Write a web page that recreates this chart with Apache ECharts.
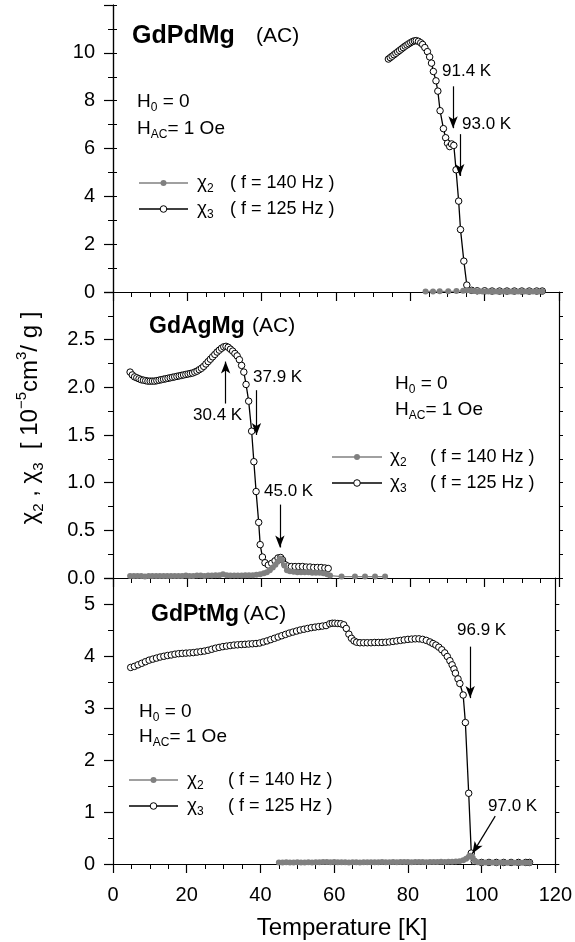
<!DOCTYPE html>
<html>
<head>
<meta charset="utf-8">
<script src="https://cdn.jsdelivr.net/npm/echarts@6/dist/echarts.min.js"></script>
<style>
html, body { margin: 0; padding: 0; background: #fff; }
#chart { width: 575px; height: 942px; }
</style>
</head>
<body>
<div id="chart"></div>
<script>
// GdPdMg: [T (K), chi (1e-5 cm3/g)]
var pdChi3 = [[74.1,9.74],[74.6,9.80],[75.1,9.86],[75.6,9.92],[76.1,9.98],[76.6,10.04],[77.1,10.10],[77.6,10.16],
  [78.1,10.22],[78.6,10.28],[79.1,10.33],[79.6,10.38],[80.1,10.43],[80.6,10.47],[81.1,10.50],[81.6,10.51],
  [82.2,10.48],[82.8,10.42],[83.3,10.35],[83.9,10.22],[84.6,10.05],[85.2,9.83],[85.7,9.57],[86.2,9.22],
  [86.9,8.83],[87.4,8.40],[88.0,7.58],[88.9,6.83],[89.5,6.45],[90.0,6.22],[90.6,6.08],[91.1,6.19],[91.7,6.13],
  [92.3,5.11],[93.0,3.80],[93.5,2.61],[94.4,1.29],[95.2,0.29],[96.5,0.07],[98,0.05],[100,0.05],[102,0.04],
  [104,0.04],[106,0.04],[108,0.04],[110,0.04],[112,0.04],[114,0.04],[115.5,0.04]];
var pdChi2 = [[84.1,0.02],[86.1,0.02],[87.9,0.03],[90.2,0.03],[92.4,0.04],[94.2,0.05],[95.3,0.07],[96.2,0.06],
  [97.0,0.04],[97.8,0.03],[98.6,0.03],[99.4,0.02],[100.2,0.02],[101.0,0.02],[101.8,0.02],[102.6,0.02],
  [103.4,0.02],[104.2,0.02],[105.0,0.02],[105.8,0.02],[106.6,0.02],[107.4,0.02],[108.2,0.02],[109.0,0.02],
  [109.8,0.02],[110.6,0.02],[111.4,0.02],[112.2,0.02],[113.0,0.02],[113.8,0.02],[114.6,0.02],[115.5,0.02]];

// GdAgMg
var agChi3 = [[4.6,2.16],[5.2,2.13],[5.8,2.11],[6.4,2.10],[7.0,2.09],[7.6,2.08],[8.2,2.075],[8.8,2.07],
  [9.4,2.065],[10.0,2.065],[10.6,2.065],[11.2,2.065],[11.8,2.07],[12.4,2.075],[13.0,2.08],[13.6,2.085],
  [14.2,2.09],[14.8,2.095],[15.4,2.10],[16.0,2.105],[16.6,2.11],[17.2,2.115],[17.8,2.12],[18.4,2.125],
  [19.0,2.13],[19.6,2.135],[20.2,2.14],[20.8,2.145],[21.4,2.15],[22.0,2.16],[22.6,2.17],[23.2,2.185],
  [23.8,2.20],[24.4,2.22],[25.0,2.245],[25.6,2.27],[26.2,2.295],[26.8,2.32],[27.4,2.345],[28.0,2.37],
  [28.6,2.39],[29.2,2.41],[29.8,2.425],[30.4,2.43],[31.0,2.42],[31.6,2.40],[32.2,2.38],[32.8,2.355],
  [33.4,2.33],[34.0,2.29],[34.6,2.23],[35.2,2.16],[35.8,2.03],[36.5,1.855],[37.3,1.54],[37.9,1.22],
  [38.5,0.907],[39.2,0.583],[39.6,0.35],[40.2,0.22],[40.9,0.16],[41.8,0.136],[42.7,0.154],[43.6,0.18],
  [44.4,0.21],[45.1,0.215],[45.6,0.19],[46.3,0.14],[47.0,0.125],[48.0,0.12],[49.0,0.12],[50.0,0.12],
  [51.0,0.12],[52.0,0.115],[53.0,0.115],[54.0,0.11],[55.0,0.11],[56.0,0.11],[57.0,0.105],[57.9,0.10]];
var agChi2 = [[4.6,0.02],[5.6,0.02],[6.6,0.02],[7.6,0.02],[8.6,0.015],[9.6,0.02],[10.6,0.02],[11.6,0.02],
  [12.6,0.02],[13.6,0.02],[14.6,0.02],[15.6,0.02],[16.6,0.02],[17.6,0.02],[18.6,0.02],[19.6,0.025],
  [20.6,0.02],[21.6,0.02],[22.6,0.025],[23.6,0.025],[24.6,0.02],[25.6,0.025],[26.6,0.025],[27.6,0.03],
  [28.6,0.03],[29.6,0.04],[30.6,0.03],[31.6,0.025],[32.6,0.025],[33.6,0.025],[34.6,0.025],[35.6,0.03],
  [36.6,0.03],[37.6,0.03],[38.6,0.035],[39.6,0.04],[40.6,0.05],[41.4,0.06],[42.2,0.08],[43.0,0.11],
  [43.7,0.14],[44.3,0.17],[44.9,0.205],[45.5,0.19],[46.1,0.13],[46.8,0.08],[47.6,0.07],[48.6,0.065],
  [49.6,0.06],[50.6,0.06],[51.6,0.06],[52.6,0.06],[53.6,0.055],[54.6,0.055],[55.6,0.055],[56.6,0.05],
  [57.6,0.04],[58.4,0.025],[61.5,0.015],[65.1,0.015],[67.8,0.015],[70.5,0.015],[73.2,0.015]];

// GdPtMg
var ptChi3 = [[4.8,3.78],[5.8,3.80],[6.8,3.83],[7.8,3.86],[8.8,3.89],[9.8,3.92],[10.8,3.94],[11.8,3.96],
  [12.8,3.98],[13.8,3.995],[14.8,4.01],[15.8,4.02],[16.8,4.035],[17.8,4.045],[18.8,4.05],[19.8,4.055],
  [20.8,4.06],[21.8,4.065],[22.8,4.075],[23.8,4.085],[24.8,4.095],[25.8,4.11],[26.8,4.13],[27.8,4.15],
  [28.8,4.165],[29.8,4.18],[30.8,4.19],[31.8,4.20],[32.8,4.21],[33.8,4.215],[34.8,4.22],[35.8,4.225],
  [36.8,4.23],[37.8,4.235],[38.8,4.24],[39.8,4.25],[40.8,4.27],[41.8,4.29],[42.8,4.315],[43.8,4.34],
  [44.8,4.365],[45.8,4.39],[46.8,4.415],[47.8,4.44],[48.8,4.46],[49.8,4.48],[50.8,4.50],[51.8,4.515],
  [52.8,4.53],[53.8,4.545],[54.8,4.555],[55.8,4.565],[56.8,4.575],[57.8,4.585],[58.8,4.62],[59.5,4.63],
  [60.2,4.63],[61.0,4.625],[61.8,4.62],[62.6,4.60],[63.3,4.53],[64.0,4.42],[64.7,4.34],[65.4,4.29],
  [66.1,4.265],[67.0,4.255],[68.0,4.255],[69.0,4.255],[70.0,4.255],[71.0,4.26],[72.0,4.26],[73.0,4.26],
  [74.0,4.265],[75.0,4.27],[76.0,4.28],[77.0,4.29],[78.0,4.30],[79.0,4.31],[80.0,4.32],[81.0,4.325],
  [82.0,4.33],[83.0,4.33],[84.0,4.32],[85.0,4.30],[86.0,4.27],[86.8,4.24],[87.6,4.21],[88.4,4.17],
  [89.2,4.12],[90.0,4.06],[90.7,3.99],[91.4,3.91],[92.0,3.83],[92.5,3.75],[92.9,3.67],[93.6,3.56],
  [94.1,3.47],[95.0,3.25],[95.6,2.72],[96.5,1.36],[97.2,0.21],[98.0,0.05],[100,0.03],[102,0.03],
  [104,0.03],[106,0.03],[108,0.03],[110,0.03],[112,0.03],[113,0.03]];
var ptChi2 = [[45,0.03],[46,0.03],[47,0.035],[48,0.03],[49,0.03],[50,0.035],[51,0.03],[52,0.03],[53,0.035],
  [54,0.03],[55,0.035],[56,0.035],[57,0.04],[58,0.04],[59,0.035],[60,0.04],[61,0.035],[62,0.035],[63,0.035],
  [64,0.03],[65,0.035],[66,0.035],[67,0.03],[68,0.035],[69,0.035],[70,0.035],[71,0.035],[72,0.035],
  [73,0.04],[74,0.035],[75,0.035],[76,0.04],[77,0.035],[78,0.04],[79,0.04],[80,0.04],[81,0.035],[82,0.04],
  [83,0.04],[84,0.04],[85,0.035],[86,0.04],[87,0.04],[88,0.04],[89,0.045],[90,0.04],[91,0.045],[92,0.045],
  [93,0.05],[94,0.055],[95,0.07],[95.8,0.1],[96.5,0.14],[97.0,0.16],[97.6,0.12],[98.2,0.06],[99,0.035],
  [100,0.03],[101,0.03],[102,0.03],[103,0.03],[104,0.025],[105,0.03],[106,0.03],[107,0.025],[108,0.03],
  [109,0.025],[110,0.025],[111,0.025],[112,0.025],[113,0.025]];

// panel y ranges and tick steps
var yMax = [12, 3, 5.5];
var yStep = [2, 0.5, 1];
var yDigits = [0, 1, 0];
var yHidden = [12, 3, 5.5];

var FONT = "'Liberation Sans', Arial, sans-serif";
var black = '#000';
var gray = '#808080';

var gridTop = [5, 292, 578];
var gridH = [287, 286, 286];

var grids = [], xAxes = [], yAxes = [];
for (var i = 0; i < 3; i++) {
  grids.push({ left: 113, width: 446, top: gridTop[i], height: gridH[i], containLabel: false });
  xAxes.push({
    gridIndex: i, type: 'value', min: 0, max: 120, interval: 20, position: 'bottom',
    axisLine: { lineStyle: { color: black, width: 1.2 } },
    axisTick: { length: 9, lineStyle: { color: black, width: 1.2 } },
    minorTick: { show: true, splitNumber: 4, length: 5, lineStyle: { color: black, width: 1 } },
    splitLine: { show: false },
    axisLabel: { show: i === 2, color: black, fontSize: 20, fontFamily: FONT, margin: 21 }
  });
  (function (k) {
    yAxes.push({
      gridIndex: k, type: 'value', min: 0, max: yMax[k], interval: yStep[k], position: 'left',
      axisLine: { show: true, lineStyle: { color: black, width: 1.2 } },
      axisTick: { show: true, length: 9, lineStyle: { color: black, width: 1.2 } },
      minorTick: { show: true, splitNumber: 2, length: 5, lineStyle: { color: black, width: 1 } },
      splitLine: { show: false },
      axisLabel: {
        color: black, fontSize: 20, fontFamily: FONT, margin: 18,
        formatter: function (v) { return Math.abs(v - yHidden[k]) < 1e-6 ? '' : v.toFixed(yDigits[k]); }
      }
    });
  })(i);
}
// right frame axes
for (var j = 0; j < 3; j++) {
  yAxes.push({
    gridIndex: j, type: 'value', min: 0, max: yMax[j], interval: yStep[j], position: 'right',
    axisLine: { show: true, lineStyle: { color: black, width: 1.2 } },
    axisTick: { show: true, length: 4, lineStyle: { color: black, width: 1 } },
    minorTick: { show: true, splitNumber: 2, length: 4, lineStyle: { color: black, width: 1 } },
    splitLine: { show: false }, axisLabel: { show: false }
  });
}
// top frame of the first panel
xAxes.push({
  gridIndex: 0, type: 'value', min: 0, max: 120, interval: 20, position: 'top',
  axisLine: { lineStyle: { color: black, width: 1.2 } },
  axisTick: { inside: true, length: 3, lineStyle: { color: black, width: 1 } },
  minorTick: { show: true, splitNumber: 4, length: 3, lineStyle: { color: black, width: 1 } },
  splitLine: { show: false }, axisLabel: { show: false }
});

function arrows(list) {
  return {
    silent: true, animation: false,
    symbol: ['none', 'arrow'], symbolSize: [7, 12],
    lineStyle: { color: black, width: 1.2, type: 'solid' },
    label: { show: false },
    data: list.map(function (a) { return [{ coord: a[0] }, { coord: a[1] }]; })
  };
}

function chi3Series(idx, data, marks) {
  return {
    type: 'line', xAxisIndex: idx, yAxisIndex: idx, data: data,
    symbol: 'circle', symbolSize: 6.5, showAllSymbol: true,
    itemStyle: { color: '#fff', borderColor: black, borderWidth: 1 },
    lineStyle: { color: black, width: 1.3 },
    emphasis: { disabled: true }, z: 2,
    markLine: arrows(marks)
  };
}
function chi2Series(idx, data) {
  return {
    type: 'line', xAxisIndex: idx, yAxisIndex: idx, data: data,
    symbol: 'circle', symbolSize: 6, showAllSymbol: true,
    itemStyle: { color: gray, borderWidth: 0 },
    lineStyle: { color: gray, width: 1.3 },
    emphasis: { disabled: true }, z: 3
  };
}

var series = [
  chi3Series(0, pdChi3, [[[91.5, 8.6], [91.5, 6.85]], [[93.3, 6.6], [93.3, 4.85]]]),
  chi2Series(0, pdChi2),
  chi3Series(1, agChi3, [[[30.3, 1.83], [30.3, 2.27]], [[38.6, 1.97], [38.6, 1.5]], [[44.9, 0.77], [44.9, 0.32]]]),
  chi2Series(1, agChi2),
  chi3Series(2, ptChi3, [[[96.9, 4.18], [96.9, 3.19]], [[103.7, 0.92], [97.5, 0.2]]]),
  chi2Series(2, ptChi2)
];

function txt(x, y, text, size, bold) {
  var rich = {};
  rich.s = { fontSize: Math.round(size * 0.62), fontFamily: FONT, color: black, verticalAlign: 'bottom', lineHeight: Math.round(size * 0.62) };
  return {
    type: 'text', left: x, top: y - size * 0.6,
    style: {
      text: text, fill: black, fontSize: size, fontFamily: FONT, fontWeight: bold ? 'bold' : 'normal',
      lineHeight: Math.round(size * 1.2), rich: rich
    }
  };
}
function legendRow(x1, x2, y, filled) {
  var c = filled ? gray : black;
  return [
    { type: 'line', shape: { x1: x1, y1: y, x2: x2, y2: y }, style: { stroke: c, lineWidth: 1.3 } },
    { type: 'circle', shape: { cx: (x1 + x2) / 2, cy: y, r: filled ? 3 : 3.3 },
      style: { fill: filled ? gray : '#fff', stroke: filled ? null : black, lineWidth: 1 } }
  ];
}

var graphics = [];
function panelText(p) {
  graphics.push(txt(p.nameX, p.nameY, p.name, p.nameSize, true));
  graphics.push(txt(p.acX, p.nameY, '(AC)', 21, false));
  graphics.push(txt(p.hX, p.h0Y, 'H{s|0} = 0', 19, false));
  graphics.push(txt(p.hX, p.hacY, 'H{s|AC}= 1 Oe', 19, false));
  graphics = graphics.concat(legendRow(p.lx1, p.lx2, p.l1Y, true));
  graphics = graphics.concat(legendRow(p.lx1, p.lx2, p.l2Y, false));
  graphics.push(txt(p.chiX, p.l1Y, 'χ{s|2}', 19, false));
  graphics.push(txt(p.chiX, p.l2Y, 'χ{s|3}', 19, false));
  graphics.push(txt(p.fX, p.l1Y, '( f = 140 Hz )', 18, false));
  graphics.push(txt(p.fX, p.l2Y, '( f = 125 Hz )', 18, false));
  p.labels.forEach(function (l) { graphics.push(txt(l[0], l[1], l[2], 17, false)); });
}
panelText({ name: 'GdPdMg', nameSize: 25, nameX: 132, acX: 256, nameY: 36, hX: 137, h0Y: 102, hacY: 129,
  lx1: 139, lx2: 188, l1Y: 183, l2Y: 209, chiX: 197, fX: 230,
  labels: [[442, 72, '91.4 K'], [462, 125, '93.0 K']] });
panelText({ name: 'GdAgMg', nameSize: 23, nameX: 149, acX: 252, nameY: 326, hX: 395, h0Y: 384, hacY: 410,
  lx1: 332, lx2: 382, l1Y: 457, l2Y: 483, chiX: 390, fX: 430,
  labels: [[193, 416, '30.4 K'], [253, 378, '37.9 K'], [264, 492, '45.0 K']] });
panelText({ name: 'GdPtMg', nameSize: 23, nameX: 151, acX: 243, nameY: 614, hX: 139, h0Y: 712, hacY: 737,
  lx1: 129, lx2: 178, l1Y: 780, l2Y: 806, chiX: 187, fX: 228,
  labels: [[457, 631, '96.9 K'], [488, 807, '97.0 K']] });

// axis titles
graphics.push({
  type: 'text', x: 342, y: 928,
  style: { text: 'Temperature [K]', fill: black, fontSize: 24, fontFamily: FONT, align: 'center', verticalAlign: 'middle' }
});
graphics.push({
  type: 'text', x: 30, y: 418, rotation: Math.PI / 2,
  style: {
    text: 'χ{sb|2} , χ{sb|3}  [ 10{sp|−5}cm{sp|3}/ g ]', fill: black, fontSize: 24, fontFamily: FONT,
    align: 'center', verticalAlign: 'middle', lineHeight: 32,
    rich: {
      sb: { fontSize: 15, fontFamily: FONT, fill: black, verticalAlign: 'bottom', lineHeight: 15 },
      sp: { fontSize: 15, fontFamily: FONT, fill: black, verticalAlign: 'top', lineHeight: 15 }
    }
  }
});

var chart = echarts.init(document.getElementById('chart'), null, { renderer: 'canvas' });
chart.setOption({
  animation: false,
  backgroundColor: '#fff',
  grid: grids,
  xAxis: xAxes,
  yAxis: yAxes,
  series: series,
  graphic: graphics
});
</script>
</body>
</html>
